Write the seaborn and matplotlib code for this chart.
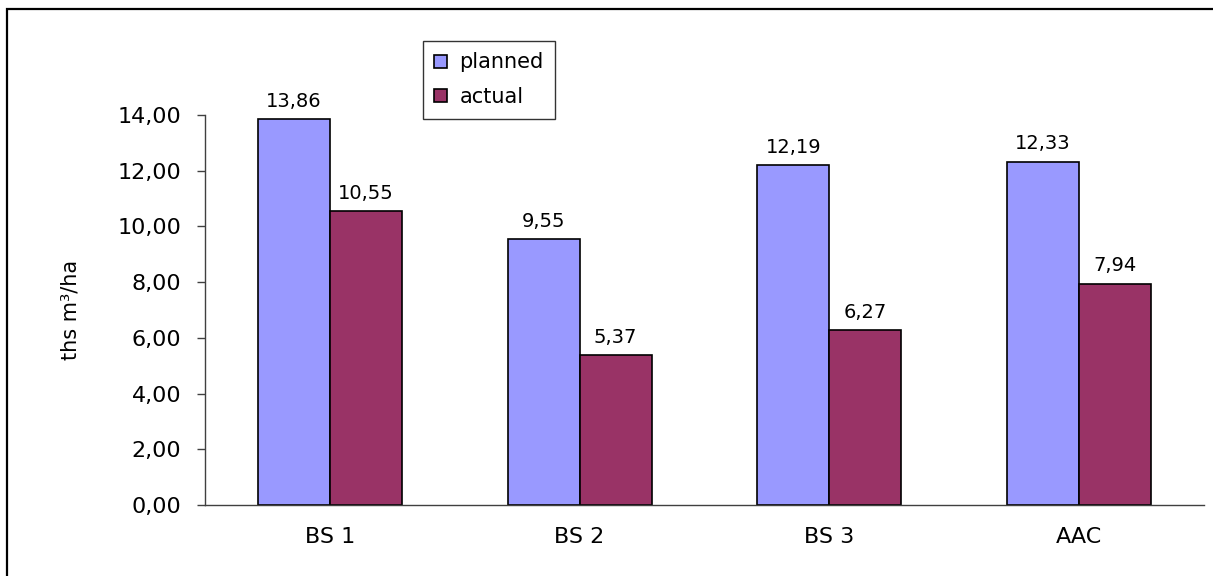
import numpy as np
import pandas as pd
import matplotlib
matplotlib.use("Agg")
import matplotlib.pyplot as plt
from matplotlib.patches import Rectangle
import seaborn as sns

# data
sites = ["BS 1", "BS 2", "BS 3", "AAC"]
planned = [13.86, 9.55, 12.19, 12.33]
actual = [10.55, 5.37, 6.27, 7.94]
series_names = ["planned", "actual"]
y_ticks = [0, 2, 4, 6, 8, 10, 12, 14]

df = pd.DataFrame({
    "site": sites * 2,
    "value": planned + actual,
    "type": [series_names[0]] * len(sites) + [series_names[1]] * len(sites),
})

sns.set_style("white")
plt.rcParams["font.family"] = ["DejaVu Sans"]
plt.rcParams["text.color"] = "black"
plt.rcParams["axes.labelcolor"] = "black"
plt.rcParams["xtick.labelcolor"] = "black"
plt.rcParams["ytick.labelcolor"] = "black"

W, H = 1213, 576
fig = plt.figure(figsize=(W / 100, H / 100), dpi=100)
ax = fig.add_axes([205 / W, 71 / H, 999 / W, 390 / H])

sns.barplot(data=df, x="site", y="value", hue="type",
            palette=["#9999FF", "#993366"], edgecolor="black",
            linewidth=1.2, width=0.576, saturation=1, ax=ax)

# value labels with decimal comma
for cont in ax.containers:
    ax.bar_label(cont, fmt=lambda v: f"{v:.2f}".replace(".", ","),
                 padding=6, fontsize=14, color="black", clip_on=False)

ax.set_xlim(-0.5, 3.5)
ax.set_ylim(0, 14)
ax.set_yticks(y_ticks)
ax.set_yticklabels([f"{t:.2f}".replace(".", ",") for t in y_ticks], fontsize=16)
ax.set_xticks(range(len(sites)))
ax.set_xticklabels(sites, fontsize=16)
ax.set_xticks(np.arange(-0.5, 4, 1), minor=True)
ax.tick_params(axis="x", which="major", length=0, pad=16)
ax.tick_params(axis="x", which="minor", length=6, direction="out",
               color="#404040", width=1)
ax.tick_params(axis="y", length=6, direction="out", color="#404040",
               width=1, pad=11, left=True)
ax.set_xlabel("")
ax.set_ylabel("ths m³/ha", fontsize=15, labelpad=27)

for s in ["top", "right"]:
    ax.spines[s].set_visible(False)
for s in ["left", "bottom"]:
    ax.spines[s].set_color("#404040")
    ax.spines[s].set_linewidth(1)

# legend box
handles, labels = ax.get_legend_handles_labels()
ax.get_legend().remove()
leg = fig.legend(handles, labels, loc="upper left",
                 bbox_to_anchor=(423 / W, 1 - 41 / H),
                 fontsize=15, frameon=True, fancybox=False,
                 handlelength=0.6, handleheight=0.6, handletextpad=0.6,
                 labelspacing=0.7, borderpad=0.55, borderaxespad=0)
leg.get_frame().set_edgecolor("black")
leg.get_frame().set_linewidth(1)

# outer chart border
fig.patches.append(Rectangle((7 / W, -0.05), 1.2, 1.05 - 9 / H,
                             transform=fig.transFigure, fill=False,
                             edgecolor="black", linewidth=1.6))

fig.savefig("out.png", dpi=100)
